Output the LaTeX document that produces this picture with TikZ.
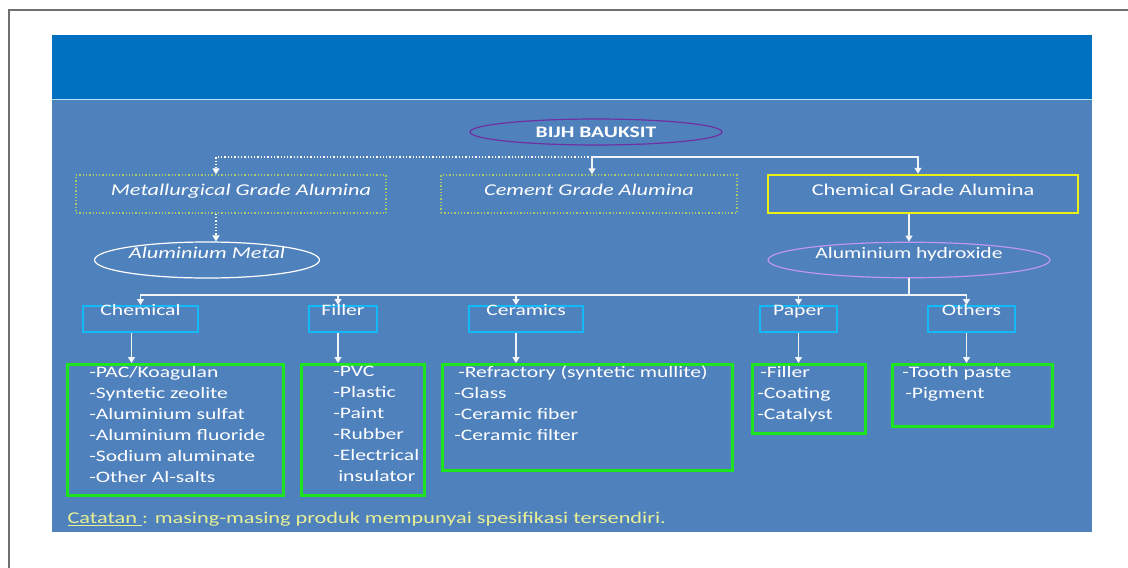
\documentclass[tikz,border=0pt]{standalone}
\usepackage{fontspec}
\setmainfont[FakeStretch=1.35]{Carlito}
\usetikzlibrary{shapes.geometric,arrows.meta}

\definecolor{hdrblue}{HTML}{0070C0}
\definecolor{slideblue}{HTML}{4F81BD}
\definecolor{bauxpurple}{HTML}{7030A0}
\definecolor{dotgreen}{HTML}{A9C96A}
\definecolor{gradeyellow}{RGB}{235,240,20}
\definecolor{lavender}{RGB}{190,150,240}
\definecolor{cyanbox}{RGB}{20,185,248}
\definecolor{greenbox}{RGB}{30,228,30}
\definecolor{notecolor}{RGB}{232,240,150}
\definecolor{framegray}{RGB}{112,112,112}

% list inside a box of fixed size
\newcommand{\boxlist}[4]{\parbox[t][#2][t]{#1}{\leftskip=#3\relax\vspace*{2pt}#4}}

\tikzset{
  every node/.style={text=white, font=\fontsize{16}{21}\selectfont},
  oval/.style={ellipse, draw, line width=1.2pt, inner sep=0pt},
  grade/.style={rectangle, draw, minimum height=38pt, inner sep=0pt,
    text height=11pt, text depth=9pt},
  usebox/.style={rectangle, draw=cyanbox, line width=2pt, minimum height=26pt,
    inner sep=0pt, text height=8pt, text depth=16pt},
  listbox/.style={rectangle, draw=greenbox, line width=2.5pt, inner sep=0pt,
    anchor=north west},
  link/.style={draw=white!92!slideblue, line width=1.3pt},
  dotlink/.style={draw=white, line width=1.3pt, dotted},
}

\begin{document}
\begin{tikzpicture}[x=1pt, y=-1pt, >={Triangle[length=6pt,width=7pt]}]
\useasboundingbox (0,0) rectangle (1128,568);
% slide
\draw[framegray, line width=2pt] (9,568) -- (9,10) -- (1128,10);
\fill[hdrblue] (52,35) rectangle (1092,99);
\fill[slideblue] (52,99) rectangle (1092,532);
\draw[white!70!cyan, line width=1pt] (52,99) -- (1092,99);

% ore and grades
\node[oval, draw=bauxpurple, minimum width=252pt, minimum height=26pt,
  font=\fontsize{16}{18}\selectfont\bfseries] (bijh) at (596,132) {BIJH BAUKSIT};
\node[grade, draw=dotgreen, dotted, line width=1.3pt, minimum width=310pt,
  font=\fontsize{16.5}{18}\selectfont\itshape] (metal) at (231,194) {\hspace*{20pt}Metallurgical Grade Alumina};
\node[grade, draw=dotgreen, dotted, line width=1.3pt, minimum width=296pt,
  font=\fontsize{16.5}{18}\selectfont\itshape] (cement) at (589,194) {Cement Grade Alumina};
\node[grade, draw=gradeyellow, line width=2.5pt, minimum width=310pt,
  font=\fontsize{16.5}{18}\selectfont] (chemgrade) at (923,194) {Chemical Grade Alumina};

\node[oval, draw=white, minimum width=225pt, minimum height=32pt, text depth=14pt,
  font=\fontsize{16.5}{18}\selectfont\itshape] (almetal) at (207,260) {Aluminium Metal};
\node[oval, draw=lavender, minimum width=282pt, minimum height=33pt, text depth=14pt] (alhyd) at (909,260) {Aluminium hydroxide};

\coordinate (split) at (592,157);
\draw[dotlink,->] (split) -| ([xshift=-15pt]metal.north);
\draw[link,->] (split) -- (split |- cement.north);
\draw[link,->] (split) -| ([xshift=-5pt]chemgrade.north);
\draw[dotlink,->] ([xshift=-15pt]metal.south) -- ([xshift=-15pt]metal.south |- almetal.north);
\draw[link,->] (alhyd.north |- chemgrade.south) -- (alhyd.north);

% uses
\node[usebox, minimum width=115pt] (cchem) at (140.5,319) {Chemical};
\node[usebox, minimum width=68pt] (cfill) at (343,319) {Filler};
\node[usebox, minimum width=114pt] (cceram) at (526,319) {Ceramics};
\node[usebox, minimum width=77pt] (cpaper) at (798.5,319) {Paper};
\node[usebox, minimum width=87pt] (cother) at (971.5,319) {Others};

\coordinate (bus) at (909,295);
\draw[link] (alhyd.south) -- (bus);
\draw[link,->] (bus) -| (cchem.north);
\draw[link,->] (bus) -| ([xshift=-5pt]cfill.north);
\draw[link,->] (bus) -| ([xshift=-10pt]cceram.north);
\draw[link,->] (bus) -| (cpaper.north);
\draw[link,->] (bus) -| ([xshift=-5pt]cother.north);

% products
\node[listbox] (lchem) at (66,363) {\boxlist{216pt}{131pt}{22pt}{%
  -PAC/Koagulan\\ -Syntetic zeolite\\ -Aluminium sulfat\\
  -Aluminium fluoride\\ -Sodium aluminate\\ -Other Al-salts}};
\node[listbox] (lfill) at (300,363) {\boxlist{123pt}{131pt}{32pt}{%
  -PVC\\ -Plastic\\ -Paint\\ -Rubber\\ -Electrical\\ \hspace*{5pt}insulator}};
\node[listbox] (lceram) at (441,363) {\boxlist{290pt}{106pt}{12pt}{%
  \hspace*{4pt}-Refractory (syntetic mullite)\\ -Glass\\ -Ceramic fiber\\ -Ceramic filter}};
\node[listbox] (lpaper) at (751,363) {\boxlist{113pt}{69pt}{5pt}{%
  \hspace*{3pt}-Filler\\ -Coating\\ -Catalyst}};
\node[listbox] (lother) at (891,363) {\boxlist{160pt}{62pt}{10pt}{%
  -Tooth paste\\ \hspace*{3pt}-Pigment}};

\draw[link,->] ([xshift=-9pt]cchem.south) -- ([xshift=-9pt]cchem.south |- lchem.north);
\draw[link,->] ([xshift=-5pt]cfill.south) -- ([xshift=-5pt]cfill.south |- lfill.north);
\draw[link,->] ([xshift=-10pt]cceram.south) -- ([xshift=-10pt]cceram.south |- lceram.north);
\draw[link,->] (cpaper.south) -- (cpaper.south |- lpaper.north);
\draw[link,->] ([xshift=-5pt]cother.south) -- ([xshift=-5pt]cother.south |- lother.north);

\node[anchor=west, text=notecolor, font=\fontsize{16.5}{20}\selectfont] (note) at (64,519)
  {\underline{Catatan\ }: masing-masing produk mempunyai spesifikasi tersendiri.};
\end{tikzpicture}
\end{document}
